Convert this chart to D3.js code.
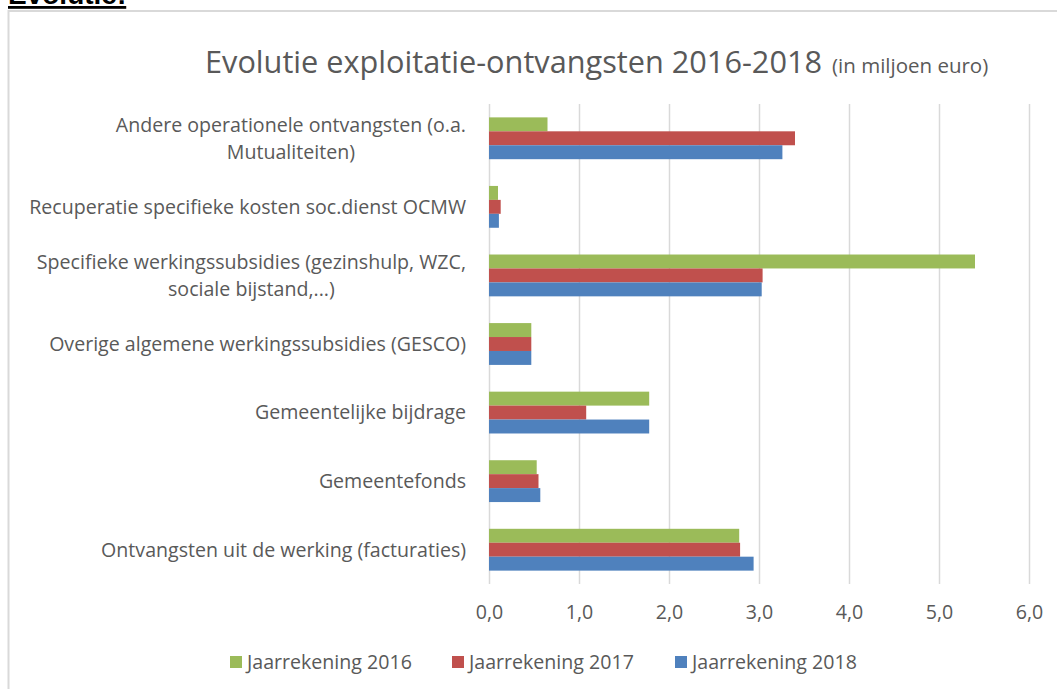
<!DOCTYPE html>
<html>
<head>
<meta charset="utf-8">
<script src="https://cdn.jsdelivr.net/npm/d3@7"></script>
<style>
    body { margin: 0; background: #fff; }
    svg { display: block; }
    text { font-family: 'Open Sans', sans-serif; fill: #595959; }
</style>
</head>
<body>
<div class="chart-container"></div>
<script>
// Data
const categories = [
    'Andere operationele ontvangsten (o.a. Mutualiteiten)',
    'Recuperatie specifieke kosten soc.dienst OCMW',
    'Specifieke werkingssubsidies (gezinshulp, WZC, sociale bijstand,...)',
    'Overige algemene werkingssubsidies (GESCO)',
    'Gemeentelijke bijdrage',
    'Gemeentefonds',
    'Ontvangsten uit de werking (facturaties)'
];
// wrapped label lines as they appear in the picture
const labelLines = [
    ['Andere operationele ontvangsten (o.a.', 'Mutualiteiten)'],
    ['Recuperatie specifieke kosten soc.dienst OCMW'],
    ['Specifieke werkingssubsidies (gezinshulp, WZC,', 'sociale bijstand,...)'],
    ['Overige algemene werkingssubsidies (GESCO)'],
    ['Gemeentelijke bijdrage'],
    ['Gemeentefonds'],
    ['Ontvangsten uit de werking (facturaties)']
];
const seriesNames = ['Jaarrekening 2016', 'Jaarrekening 2017', 'Jaarrekening 2018'];
const seriesColors = ['#9BBB59', '#C0504D', '#4F81BD'];
const values2016 = [0.65, 0.10, 5.40, 0.47, 1.78, 0.53, 2.78];
const values2017 = [3.40, 0.13, 3.04, 0.47, 1.08, 0.55, 2.79];
const values2018 = [3.26, 0.11, 3.03, 0.47, 1.78, 0.57, 2.94];
const xTicks = [0, 1, 2, 3, 4, 5, 6];

const titleMain = 'Evolutie exploitatie-ontvangsten 2016-2018';
const titleSub = '(in miljoen euro)';
const headerText = 'Evolutie:';

// Main
function ready() {
    const svgWidth = 1057;
    const svgHeight = 689;
    const plot = { left: 489, right: 1029, top: 104, bottom: 584 };
    const labelFont = '19.6px';

    const svg = d3.select('.chart-container')
        .append('svg')
        .attr('width', svgWidth)
        .attr('height', svgHeight);

    // page header, cut off at the top like in the document
    svg.append('text')
        .attr('x', 8)
        .attr('y', 4)
        .style('font-family', "'Liberation Sans', Arial, sans-serif")
        .style('font-weight', 'bold')
        .style('font-size', '28px')
        .style('fill', '#000')
        .style('text-decoration', 'underline')
        .text(headerText);

    // chart frame
    svg.append('path')
        .attr('d', 'M8.5,' + svgHeight + 'V11H' + svgWidth)
        .attr('fill', 'none')
        .attr('stroke', '#D9D9D9')
        .attr('stroke-width', 2);

    // title
    const title = svg.append('text')
        .attr('x', 205)
        .attr('y', 73);
    title.append('tspan')
        .style('font-size', '30.7px')
        .text(titleMain);
    title.append('tspan')
        .attr('dx', 10)
        .style('font-size', '20.5px')
        .text(titleSub);

    // scales
    const xScale = d3.scaleLinear()
        .domain([0, 6])
        .range([plot.left, plot.right]);

    const yScale = d3.scaleBand()
        .domain(categories)
        .range([plot.top, plot.bottom])
        .paddingInner(0.39)
        .paddingOuter(0.195);

    const ySub = d3.scaleBand()
        .domain(seriesNames)
        .range([0, yScale.bandwidth()]);

    // grid + ticks
    const xAxis = d3.axisBottom(xScale)
        .tickValues(xTicks)
        .tickFormat(d => d3.format('.1f')(d).replace('.', ','))
        .tickSizeInner(-(plot.bottom - plot.top))
        .tickSizeOuter(0)
        .tickPadding(21);

    const xAxisDraw = svg.append('g')
        .attr('class', 'x axis')
        .attr('transform', 'translate(0,' + plot.bottom + ')');
    xAxis(xAxisDraw);
    xAxisDraw.select('.domain').remove();
    xAxisDraw.selectAll('line')
        .attr('stroke', '#D9D9D9')
        .attr('stroke-width', 1.5);
    xAxisDraw.selectAll('text')
        .style('font-family', "'Open Sans', sans-serif")
        .style('font-size', labelFont)
        .style('fill', '#595959');

    // bars
    const series = [values2016, values2017, values2018];
    series.forEach((vals, si) => {
        svg.append('g')
            .selectAll('rect')
            .data(vals)
            .enter()
            .append('rect')
            .attr('x', xScale(0))
            .attr('y', (d, i) => yScale(categories[i]) + ySub(seriesNames[si]))
            .attr('width', d => xScale(d) - xScale(0))
            .attr('height', ySub.bandwidth())
            .style('fill', seriesColors[si]);
    });

    // category labels (wrapped lines centred on each other, right edge at 466)
    const labelRight = 466;
    const lineHeight = 27;
    categories.forEach((c, i) => {
        const lines = labelLines[i];
        const cy = yScale(c) + yScale.bandwidth() / 2;
        const g = svg.append('text')
            .style('font-size', labelFont);
        const tspans = lines.map((l, j) => g.append('tspan')
            .attr('y', cy + (j - (lines.length - 1) / 2) * lineHeight)
            .attr('dy', '0.35em')
            .text(l));
        const maxW = d3.max(tspans, t => t.node().getComputedTextLength());
        g.attr('text-anchor', 'middle');
        tspans.forEach(t => t.attr('x', labelRight - maxW / 2));
    });

    // legend
    const legendX = [230, 452, 675];
    const legendY = 662;
    seriesNames.forEach((name, i) => {
        svg.append('rect')
            .attr('x', legendX[i])
            .attr('y', legendY - 6)
            .attr('width', 12)
            .attr('height', 12)
            .style('fill', seriesColors[i]);
        svg.append('text')
            .attr('x', legendX[i] + 17)
            .attr('y', legendY)
            .attr('dy', '0.35em')
            .style('font-size', labelFont)
            .text(name);
    });
}

ready();
</script>
</body>
</html>
